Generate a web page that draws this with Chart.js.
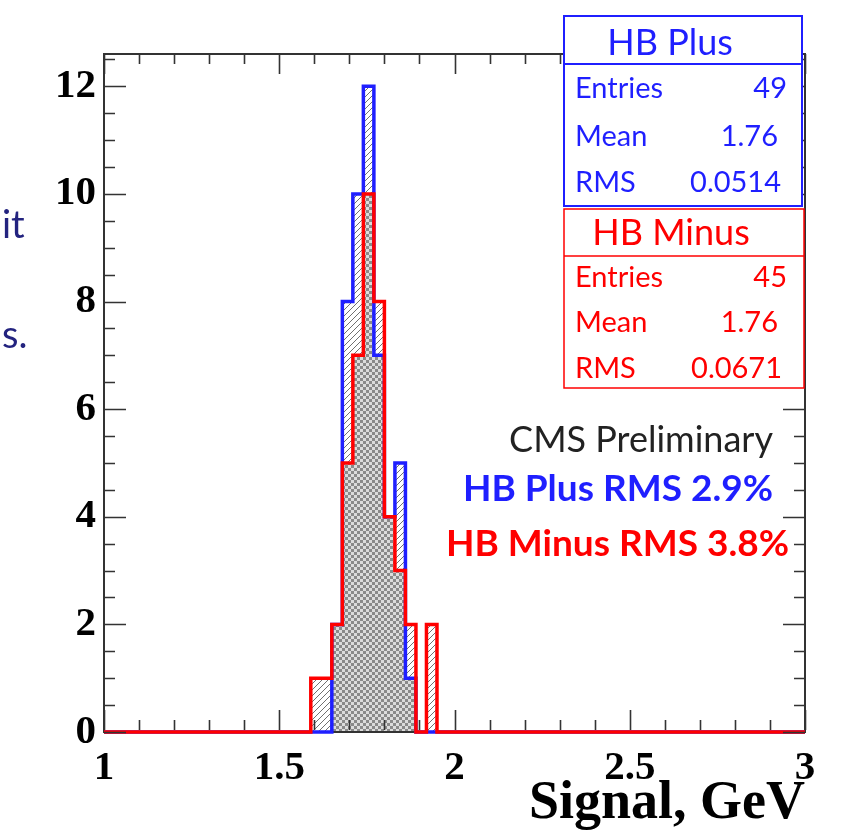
<!DOCTYPE html>
<html><head><meta charset="utf-8">
<script src="https://cdn.jsdelivr.net/npm/chart.js@4.4.0/dist/chart.umd.min.js"></script>
<style>html,body{margin:0;padding:0;background:#fff}#wrap{width:842px;height:830px;position:relative}</style>
</head><body><div id="wrap"><canvas id="c" width="842" height="830"></canvas></div>
<script>
// ---- data ----
const binLowEdges   = [1.59,1.62,1.65,1.68,1.71,1.74,1.77,1.80,1.83,1.86,1.89,1.92];
const binWidth      = 0.03;
const hbPlusCounts  = [0,0,2,8,10,12,7,4,5,1,0,0];
const hbMinusCounts = [1,1,2,5,7,10,8,4,3,2,0,2];
const xTickValues = [1,1.5,2,2.5,3];
const xTickLabels = ['1','1.5','2','2.5','3'];
const yTickValues = [0,2,4,6,8,10,12];
const yTickLabels = ['0','2','4','6','8','10','12'];
const xRange = [1,3];
const yRange = [0,12.6];
const xAxisTitle = 'Signal, GeV';
const plusStatTitle = 'HB Plus';
const minusStatTitle = 'HB Minus';
const statLabels = ['Entries','Mean','RMS'];
const plusStatValues = ['49','1.76','0.0514'];
const minusStatValues = ['45','1.76','0.0671'];
const noteLines = ['CMS Preliminary','HB Plus RMS 2.9%','HB Minus RMS 3.8%'];
const sideFragments = ['it','s.'];

// ---- helpers ----
function histPoints(counts){
  const pts=[{x:xRange[0],y:0}];
  counts.forEach((c,i)=>pts.push({x:binLowEdges[i],y:c}));
  pts.push({x:binLowEdges[binLowEdges.length-1]+binWidth,y:0});
  pts.push({x:xRange[1],y:0});
  return pts;
}
const overlapCounts = hbPlusCounts.map((v,i)=>Math.min(v,hbMinusCounts[i]));

const canvas=document.getElementById('c');
const mctx=canvas.getContext('2d');
function hatchPattern(color){
  const t=document.createElement('canvas'); t.width=t.height=6;
  const g=t.getContext('2d'); g.strokeStyle=color; g.lineWidth=1;
  g.beginPath(); g.moveTo(-1,7); g.lineTo(7,-1); g.moveTo(-1,1); g.lineTo(1,-1); g.moveTo(5,7); g.lineTo(7,5); g.stroke();
  return mctx.createPattern(t,'repeat');
}
function checkerPattern(){
  const t=document.createElement('canvas'); t.width=t.height=6;
  const g=t.getContext('2d'); g.fillStyle='#dcdcdc'; g.fillRect(0,0,6,6);
  g.fillStyle='#8a8a8a'; g.fillRect(0,0,3,3); g.fillRect(3,3,3,3);
  return mctx.createPattern(t,'repeat');
}
const BLUE='#1f1fff', RED='#ff0000';

const decor={
  id:'decor',
  beforeDatasetsDraw(chart){
    const {ctx,chartArea:a}=chart;
    ctx.save(); ctx.strokeStyle='#333'; ctx.lineWidth=2;
    ctx.strokeRect(a.left,a.top,a.right-a.left,a.bottom-a.top); ctx.restore();
  },
  afterDatasetsDraw(chart){
    const {ctx,chartArea:a,scales}=chart; const xs=scales.x, ys=scales.y;
    ctx.save(); ctx.strokeStyle='#333'; ctx.lineWidth=1.6;
    ctx.beginPath();
    for(let k=0;k<=20;k++){
      const v=xRange[0]+k*0.1; const px=Math.round(xs.getPixelForValue(v))+0.5;
      const major=xTickValues.some(t=>Math.abs(t-v)<1e-6); const L=major?20:10;
      ctx.moveTo(px,a.bottom-2); ctx.lineTo(px,a.bottom-2-L);
      ctx.moveTo(px,a.top); ctx.lineTo(px,a.top+L);
    }
    for(let k=0;k<=25;k++){
      const v=k*0.5; const py=Math.round(ys.getPixelForValue(v))+0.5;
      const major=yTickValues.includes(v); const L=major?22:11;
      ctx.moveTo(a.left,py); ctx.lineTo(a.left+L,py);
      ctx.moveTo(a.right,py); ctx.lineTo(a.right-L,py);
    }
    ctx.stroke(); ctx.restore();
  },
  afterDraw(chart){
    const ctx=chart.ctx; ctx.save();
    // side fragments
    ctx.fillStyle='#23237f'; ctx.font='38px Lato'; ctx.textBaseline='middle'; ctx.textAlign='left';
    ctx.fillText(sideFragments[0],2,226); ctx.fillText(sideFragments[1],2,336);
    // stat boxes
    function box(x0,y0,x1,y1,sep,color,lw,title,titleX,titleY,vals,rowY,valRight){
      ctx.fillStyle='#fff'; ctx.fillRect(x0,y0,x1-x0,y1-y0);
      ctx.strokeStyle=color; ctx.lineWidth=lw; ctx.strokeRect(x0,y0,x1-x0,y1-y0);
      ctx.beginPath(); ctx.moveTo(x0,sep); ctx.lineTo(x1,sep); ctx.stroke();
      ctx.fillStyle=color; ctx.textBaseline='middle';
      ctx.font='36px Lato'; ctx.textAlign='center'; ctx.fillText(title,titleX,titleY);
      ctx.font='29px Lato';
      statLabels.forEach((l,i)=>{ ctx.textAlign='left'; ctx.fillText(l,575,rowY[i]);
        ctx.textAlign='right'; ctx.fillText(vals[i],valRight[i],rowY[i]); });
    }
    box(564,16,802,206,64,BLUE,2,plusStatTitle,670,43,plusStatValues,[89,137,183],[787,778,781]);
    box(564,209,804,388,256,RED,1.5,minusStatTitle,671,233,minusStatValues,[278,323,369],[787,778,782]);
    // notes
    ctx.textAlign='right'; ctx.textBaseline='middle';
    ctx.font='36px Lato'; ctx.fillStyle='#222'; ctx.fillText(noteLines[0],773,440);
    ctx.font='bold 37px Lato'; ctx.fillStyle=BLUE; ctx.fillText(noteLines[1],773,489);
    ctx.fillStyle=RED; ctx.fillText(noteLines[2],789,544);
    ctx.restore();
  }
};

const common={stepped:true,pointRadius:0,pointHoverRadius:0,fill:'origin',clip:false,tension:0};
new Chart(canvas,{
  type:'line',
  data:{datasets:[
    Object.assign({label:'overlap',data:histPoints(overlapCounts),borderWidth:0,borderColor:'rgba(0,0,0,0)',backgroundColor:checkerPattern()},common),
    Object.assign({label:'HB Minus',data:histPoints(hbMinusCounts),borderWidth:3.5,borderColor:RED,backgroundColor:hatchPattern('#707070')},common),
    Object.assign({label:'HB Plus',data:histPoints(hbPlusCounts),borderWidth:3.5,borderColor:BLUE,backgroundColor:hatchPattern('#707070')},common)
  ]},
  options:{
    responsive:false,animation:false,
    layout:{padding:{left:0,right:37,top:54,bottom:0}},
    plugins:{legend:{display:false},tooltip:{enabled:false},filler:{drawTime:'beforeDatasetsDraw'}},
    scales:{
      x:{type:'linear',min:xRange[0],max:xRange[1],
        grid:{display:false,drawTicks:false},border:{display:false},
        afterBuildTicks(s){s.ticks=xTickValues.map(v=>({value:v}));},
        afterFit(s){s.height=98;},
        ticks:{padding:12,maxRotation:0,autoSkip:false,color:'#000',font:{family:'Liberation Serif',weight:'bold',size:41},
          callback:(v)=>xTickLabels[xTickValues.indexOf(v)]},
        title:{display:true,text:xAxisTitle,align:'end',color:'#000',padding:0,font:{family:'Liberation Serif',weight:'bold',size:54,lineHeight:0.95}}
      },
      y:{type:'linear',min:yRange[0],max:yRange[1],
        grid:{display:false,drawTicks:false},border:{display:false},
        afterBuildTicks(s){s.ticks=yTickValues.map(v=>({value:v}));},
        afterFit(s){s.width=104;},
        ticks:{padding:8,autoSkip:false,color:'#000',font:{family:'Liberation Serif',weight:'bold',size:41},
          callback:(v)=>yTickLabels[yTickValues.indexOf(v)]}
      }
    }
  },
  plugins:[decor]
});
</script></body></html>
